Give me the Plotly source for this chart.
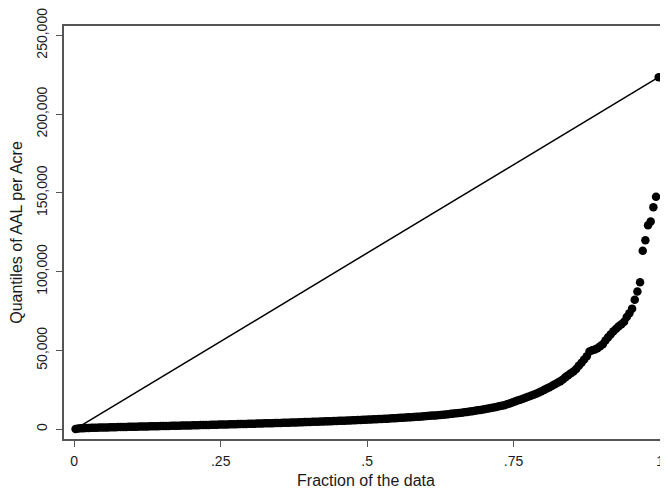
import plotly.graph_objects as go

# quantiles of AAL per acre, sorted (n = 220)
aal_quantiles = [
    120, 350, 480, 580, 660, 730, 790, 850, 900, 950,
    1000, 1040, 1080, 1130, 1170, 1210, 1260, 1300, 1340, 1380,
    1420, 1470, 1510, 1550, 1590, 1630, 1670, 1710, 1750, 1790,
    1830, 1870, 1910, 1950, 1990, 2030, 2070, 2110, 2150, 2190,
    2230, 2270, 2310, 2350, 2390, 2430, 2480, 2520, 2560, 2610,
    2650, 2700, 2740, 2790, 2840, 2880, 2930, 2970, 3020, 3060,
    3110, 3150, 3200, 3250, 3290, 3340, 3390, 3430, 3480, 3530,
    3580, 3630, 3680, 3730, 3780, 3830, 3880, 3930, 3980, 4030,
    4090, 4140, 4200, 4250, 4310, 4370, 4420, 4480, 4540, 4600,
    4660, 4720, 4780, 4840, 4900, 4970, 5030, 5100, 5160, 5230,
    5300, 5370, 5440, 5510, 5580, 5650, 5730, 5800, 5880, 5960,
    6040, 6120, 6200, 6290, 6370, 6460, 6550, 6640, 6730, 6830,
    6920, 7020, 7120, 7230, 7330, 7440, 7550, 7660, 7780, 7900,
    8020, 8150, 8280, 8410, 8550, 8690, 8840, 8990, 9150, 9310,
    9480, 9660, 9840, 10030, 10230, 10440, 10660, 10890, 11130, 11380,
    11640, 11910, 12190, 12480, 12780, 13090, 13410, 13740, 14080, 14430,
    14800, 15200, 15700, 16300, 16900, 17500, 18100, 18700, 19300, 19900,
    20500, 21100, 21800, 22500, 23300, 24100, 24900, 25700, 26600, 27500,
    28500, 29400, 30300, 31500, 33000, 34200, 35500, 36500, 38200, 40300,
    42100, 44200, 46300, 49200, 50100, 50600, 51400, 52600, 53900, 56200,
    58400, 60300, 62100, 63700, 65300, 66600, 68200, 71200, 73600, 76500,
    82200, 87400, 93300, 113200, 119900, 129400, 131900, 140900, 147600, 223500,
]

x_ticks = [0, 0.25, 0.5, 0.75, 1]
x_tick_labels = ["0", ".25", ".5", ".75", "1"]
y_ticks = [0, 50000, 100000, 150000, 200000, 250000]

# fraction of the data, (i - 0.5) / n like stata's quantile
n = len(aal_quantiles)
fraction = [(i + 0.5) / n for i in range(n)]

fig = go.Figure()
# reference line from min to max
fig.add_trace(go.Scatter(
    x=[fraction[0], fraction[-1]], y=[aal_quantiles[0], aal_quantiles[-1]],
    mode="lines", line=dict(color="black", width=1.5), hoverinfo="skip",
))
fig.add_trace(go.Scatter(
    x=fraction, y=aal_quantiles, mode="markers", cliponaxis=False,
    marker=dict(color="black", size=8.5, line=dict(width=0)),
))

axis_col = "#555555"
# page body has an 8px margin, so the figure is a bit smaller than the window
fig.update_layout(
    width=660, height=486,
    margin=dict(l=54, r=0, t=14, b=55),
    paper_bgcolor="white", plot_bgcolor="white",
    showlegend=False,
    font=dict(family="Liberation Sans, Arial", size=14, color="#1a1a1a"),
    xaxis=dict(
        range=[-0.0175, 1.0136],
        tickvals=x_ticks, ticktext=x_tick_labels,
        showgrid=False, zeroline=False,
        showline=True, mirror=True, linecolor=axis_col, linewidth=1.5,
        ticks="outside", ticklen=6, tickcolor=axis_col, tickwidth=1.2,
        ticklabelstandoff=2, ticklabeloverflow="allow",
        title=dict(text="Fraction of the data", font=dict(size=16), standoff=7),
    ),
    yaxis=dict(
        range=[-6300, 256000],
        tickvals=y_ticks, tickformat=",d",
        tickangle=-90,
        showgrid=False, zeroline=False,
        showline=True, linecolor=axis_col, linewidth=1.5,
        ticks="outside", ticklen=6, tickcolor=axis_col, tickwidth=1.2,
        ticklabelstandoff=4, ticklabeloverflow="allow",
        title=dict(text="Quantiles of AAL per Acre", font=dict(size=16), standoff=14),
    ),
)

fig.write_html("out.html")
